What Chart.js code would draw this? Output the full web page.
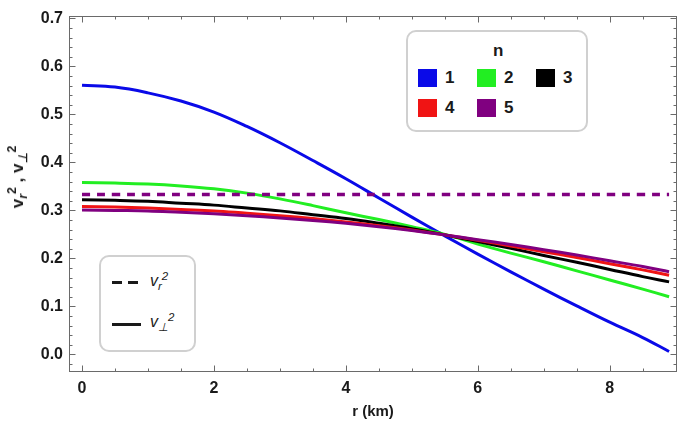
<!DOCTYPE html>
<html>
<head>
<meta charset="utf-8">
<script src="https://cdn.jsdelivr.net/npm/chart.js@4/dist/chart.umd.min.js"></script>
<style>
  body { margin: 0; background: #fff; }
  #wrap { position: relative; width: 685px; height: 434px; font-family: "Liberation Sans", Arial, sans-serif; color: #1a1a1a; }
  #ytitle { position: absolute; left: 18px; top: 177px; transform: translate(-50%, -50%) rotate(-90deg);
            font-size: 17px; font-weight: bold; white-space: nowrap; }
  .sb { position: relative; top: 0.35em; font-size: 72%; font-style: italic; }
  .sp { position: relative; top: -0.55em; font-size: 72%; }
  .box { position: absolute; border: 2px solid #d0d0d0; border-radius: 10px; background: #fff; }
  #legN { left: 406px; top: 30px; width: 178px; height: 98px; }
  #legV { left: 99px; top: 255px; width: 93px; height: 93px; }
  .sw { position: absolute; width: 19px; height: 18px; }
  .lab { position: absolute; font-size: 17px; font-weight: bold; }
  .seg { position: absolute; height: 3px; background: #1a1a1a; }
  .vl { position: absolute; font-size: 16px; font-style: italic; }
</style>
</head>
<body>
<div id="wrap">
  <canvas id="myChart" width="685" height="434"></canvas>
  <div id="ytitle">v<span class="sb">r</span><span class="sp">2</span> , v<span class="sb">⊥</span><span class="sp">2</span></div>
  <div id="legN" class="box"></div>
  <div id="legV" class="box">
    <div class="seg" style="left:11px; top:24px; width:10px;"></div>
    <div class="seg" style="left:27px; top:24px; width:10px;"></div>
    <div class="vl" style="left:49px; top:15px;">v<span class="sb">r</span><span class="sp">2</span></div>
    <div class="seg" style="left:11px; top:66px; width:29px;"></div>
    <div class="vl" style="left:49px; top:56px;">v<span class="sb">⊥</span><span class="sp">2</span></div>
  </div>
</div>
<script>
// radius in km
var rValues = [0, 0.5, 1, 1.5, 2, 2.5, 3, 3.5, 4, 4.5, 5, 5.5, 6, 6.5, 7, 7.5, 8, 8.5, 8.9]

// v_perp^2 for n = 1..5
var vPerp1 = [0.561, 0.557, 0.545, 0.528, 0.505, 0.475, 0.441, 0.404, 0.366, 0.326, 0.286, 0.247, 0.209, 0.172, 0.136, 0.101, 0.067, 0.035, 0.006]
var vPerp2 = [0.358, 0.357, 0.355, 0.351, 0.345, 0.336, 0.324, 0.310, 0.295, 0.281, 0.266, 0.250, 0.230, 0.211, 0.193, 0.174, 0.155, 0.136, 0.120]
var vPerp3 = [0.322, 0.321, 0.319, 0.315, 0.311, 0.305, 0.299, 0.291, 0.283, 0.273, 0.262, 0.249, 0.235, 0.221, 0.206, 0.192, 0.177, 0.162, 0.151]
var vPerp4 = [0.308, 0.307, 0.305, 0.302, 0.299, 0.294, 0.289, 0.283, 0.276, 0.268, 0.259, 0.249, 0.238, 0.226, 0.214, 0.202, 0.189, 0.176, 0.165]
var vPerp5 = [0.301, 0.300, 0.299, 0.296, 0.293, 0.289, 0.284, 0.279, 0.273, 0.266, 0.258, 0.249, 0.239, 0.229, 0.218, 0.207, 0.195, 0.183, 0.172]

// v_r^2 is the same flat value for every n
var vRad = [0.333, 0.333, 0.333, 0.333, 0.333, 0.333, 0.333, 0.333, 0.333, 0.333, 0.333, 0.333, 0.333, 0.333, 0.333, 0.333, 0.333, 0.333, 0.333]

var nLabels = ['1', '2', '3', '4', '5']
var nColors = ['#0a0ae8', '#22ee22', '#000000', '#f01414', '#800080']

var xTicks = [0, 2, 4, 6, 8]
var yTicks = [0, 0.1, 0.2, 0.3, 0.4, 0.5, 0.6, 0.7]

var fontFam = '"Liberation Sans", Arial, sans-serif'

function pts(ys) {
  return rValues.map((r, i) => ({x: r, y: ys[i]}))
}

// html legend for n
var legN = document.getElementById('legN')
legN.innerHTML = '<div class="lab" style="left:85px; top:9px;">n</div>'
nLabels.forEach((lab, i) => {
  var col = i % 3, row = Math.floor(i / 3)
  var left = 10 + col * 59, top = 37 + row * 30
  legN.innerHTML += `<div class="sw" style="left:${left}px; top:${top}px; background:${nColors[i]}"></div>` +
    `<div class="lab" style="left:${left + 27}px; top:${top - 1}px;">${lab}</div>`
})

// frame with inward ticks, like the original plot
var frameTicks = {
  id: 'frameTicks',
  afterDatasetsDraw(chart) {
    var ctx = chart.ctx, a = chart.chartArea
    var xs = chart.scales.x, ys = chart.scales.y
    var L = Math.round(a.left) + 0.5, R = Math.round(a.right) - 0.5
    var T = Math.round(a.top) + 0.5, B = Math.round(a.bottom) - 0.5
    ctx.save()
    ctx.strokeStyle = '#6a6a6a'
    ctx.lineWidth = 1
    ctx.strokeRect(L, T, R - L, B - T)
    ctx.beginPath()
    for (var k = 0; k <= 18; k++) {
      var v = k * 0.5
      var px = Math.round(xs.getPixelForValue(v)) + 0.5
      var len = (k % 4 == 0) ? 6 : 3
      ctx.moveTo(px, B); ctx.lineTo(px, B - len)
      ctx.moveTo(px, T); ctx.lineTo(px, T + len)
    }
    for (var j = -1; j <= 35; j++) {
      var py = Math.round(ys.getPixelForValue(j * 0.02)) + 0.5
      var len2 = (j % 5 == 0) ? 6 : 3
      ctx.moveTo(L, py); ctx.lineTo(L + len2, py)
      ctx.moveTo(R, py); ctx.lineTo(R - len2, py)
    }
    ctx.stroke()
    ctx.restore()
  }
}

var datasets = [{
  label: 'v_r^2',
  data: pts(vRad),
  borderColor: '#800080',
  borderWidth: 3.5,
  borderDash: [8, 7],
  order: 0
}]
var perps = [vPerp1, vPerp2, vPerp3, vPerp4, vPerp5]
perps.forEach((ys, i) => {
  datasets.push({
    label: 'n = ' + nLabels[i],
    data: pts(ys),
    borderColor: nColors[i],
    borderWidth: 3,
    order: 5 - i
  })
})

var ctx = document.getElementById('myChart').getContext('2d')
var chart = new Chart(ctx, {
  type: 'line',
  data: { datasets: datasets },
  options: {
    responsive: false,
    animation: false,
    elements: { point: { radius: 0 }, line: { tension: 0.4, fill: false } },
    layout: { padding: { top: 9, right: 8, left: 0, bottom: 0 } },
    plugins: { legend: { display: false }, tooltip: { enabled: false } },
    scales: {
      x: {
        type: 'linear',
        min: -0.197,
        max: 9.02,
        grid: { display: false, drawTicks: false },
        border: { display: false },
        afterBuildTicks: s => { s.ticks = xTicks.map(v => ({ value: v })) },
        afterFit: s => { s.height = 62 },
        ticks: { font: { family: fontFam, size: 16, weight: 'bold' }, color: '#1a1a1a', padding: 7, maxRotation: 0,
                 callback: v => String(v) },
        title: { display: true, text: 'r (km)', color: '#1a1a1a',
                 font: { family: fontFam, size: 15, weight: 'bold' }, padding: { top: 0, bottom: 13 } }
      },
      y: {
        min: -0.0368,
        max: 0.706,
        grid: { display: false, drawTicks: false },
        border: { display: false },
        afterBuildTicks: s => { s.ticks = yTicks.map(v => ({ value: v })) },
        afterFit: s => { s.width = 69 },
        ticks: { font: { family: fontFam, size: 16, weight: 'bold' }, color: '#1a1a1a', padding: 6,
                 callback: v => v.toFixed(1) }
      }
    }
  },
  plugins: [frameTicks]
})
</script>
</body>
</html>
